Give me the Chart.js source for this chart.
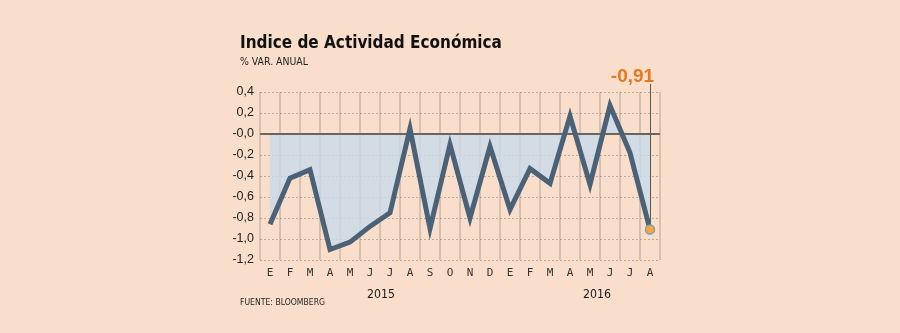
<!DOCTYPE html>
<html>
<head>
<meta charset="utf-8">
<script src="https://cdn.jsdelivr.net/npm/chart.js@4/dist/chart.umd.min.js"></script>
<style>
  html,body{margin:0;padding:0;background:#f9dfcb;}
  #wrap{position:relative;width:900px;height:333px;overflow:hidden;background:#f9dfcb;}
  canvas{position:absolute;left:0;top:0;}
  .t{position:absolute;white-space:nowrap;color:#111;line-height:1;}
  #title{left:240px;top:32px;font:bold 18px "DejaVu Sans Condensed","Liberation Sans",sans-serif;}
  #sub{left:240px;top:55px;font:10px "DejaVu Sans Condensed","Liberation Sans",sans-serif;color:#222;}
  #src{left:240px;top:297px;font:10px "DejaVu Sans Condensed","Liberation Sans",sans-serif;color:#222;}
</style>
</head>
<body>
<div id="wrap">
  <canvas id="c" width="900" height="333"></canvas>
  <div class="t" id="title">Indice de Actividad Económica</div>
  <div class="t" id="sub">% VAR. ANUAL</div>
  <div class="t" id="src">FUENTE: BLOOMBERG</div>
</div>
<script>
// ---- data ----
const months = ["E","F","M","A","M","J","J","A","S","O","N","D","E","F","M","A","M","J","J","A"];
const values = [-0.86,-0.42,-0.34,-1.10,-1.03,-0.88,-0.75,0.05,-0.90,-0.10,-0.80,-0.12,-0.72,-0.33,-0.47,0.17,-0.48,0.27,-0.18,-0.91];
const yTickValues = [0.4,0.2,0,-0.2,-0.4,-0.6,-0.8,-1.0,-1.2];
const yTickLabels = ["0,4","0,2","-0,0","-0,2","-0,4","-0,6","-0,8","-1,0","-1,2"];
const yearLabels = ["2015","2016"];
const lastLabel = "-0,91";

const lastIdx = values.length - 1;

function fit(id, w) {
  const el = document.getElementById(id);
  let fs = parseFloat(getComputedStyle(el).fontSize);
  for (let k = 0; k < 4; k++) {
    fs = fs * w / el.getBoundingClientRect().width;
    el.style.fontSize = fs + 'px';
  }
}
fit('title', 262);
fit('sub', 68);
fit('src', 85);

const extras = {
  id: 'extras',
  beforeDatasetsDraw(chart) {
    const {ctx, chartArea, scales} = chart;
    const y0 = scales.y.getPixelForValue(0);
    ctx.save();
    ctx.strokeStyle = '#6b6560';
    ctx.lineWidth = 2;
    ctx.beginPath();
    ctx.moveTo(chartArea.left, y0);
    ctx.lineTo(chartArea.right, y0);
    ctx.stroke();
    const px = scales.x.getPixelForValue(lastIdx);
    const py = scales.y.getPixelForValue(values[lastIdx]);
    ctx.strokeStyle = '#5a5550';
    ctx.lineWidth = 1;
    ctx.beginPath();
    ctx.moveTo(px + 0.5, 84);
    ctx.lineTo(px + 0.5, py);
    ctx.stroke();
    ctx.restore();
  },
  afterDraw(chart) {
    const {ctx, scales} = chart;
    ctx.save();
    ctx.fillStyle = '#1a1a1a';
    ctx.textAlign = 'center';
    ctx.textBaseline = 'middle';
    let fs = 14;
    ctx.font = fs + 'px "DejaVu Sans Condensed","Liberation Sans",sans-serif';
    fs = fs * 28 / ctx.measureText('2015').width;
    ctx.font = fs + 'px "DejaVu Sans Condensed","Liberation Sans",sans-serif';
    const anchors = [5.55, 16.35];
    yearLabels.forEach((t, i) => {
      ctx.fillText(t, scales.x.getPixelForValue(anchors[i]), 295);
    });
    const px = scales.x.getPixelForValue(lastIdx);
    ctx.fillStyle = '#e6781e';
    ctx.font = 'bold 19px "Liberation Sans","DejaVu Sans",sans-serif';
    ctx.textAlign = 'center';
    ctx.fillText(lastLabel, px - 17.5, 77);
    ctx.restore();
  }
};

new Chart(document.getElementById('c'), {
  type: 'line',
  data: {
    labels: months,
    datasets: [{
      data: values,
      borderColor: '#4b6276',
      borderWidth: 5,
      tension: 0,
      fill: 'origin',
      backgroundColor: 'rgba(203,218,234,0.82)',
      pointRadius: c => c.dataIndex === lastIdx ? 4.5 : 0,
      pointHoverRadius: 0,
      pointBackgroundColor: '#f4a93a',
      pointBorderColor: '#8a9aab',
      pointBorderWidth: 1.5
    }]
  },
  options: {
    responsive: false,
    animation: false,
    events: [],
    layout: { padding: { left: 0, right: 240, top: 92, bottom: 0 } },
    plugins: {
      legend: { display: false },
      tooltip: { enabled: false },
      filler: { drawTime: 'beforeDatasetsDraw' }
    },
    scales: {
      x: {
        type: 'category',
        offset: true,
        grid: { offset: true, color: 'rgba(150,135,125,0.35)', lineWidth: 2, drawTicks: false },
        border: { display: false },
        ticks: { color: '#333', font: { family: '"DejaVu Sans Mono", monospace', size: 11 }, padding: 7, maxRotation: 0, autoSkip: false },
        afterFit(s) { s.height = 73; }
      },
      y: {
        min: -1.2, max: 0.4,
        afterBuildTicks(s) { s.ticks = yTickValues.map(v => ({ value: v })); },
        grid: { color: 'rgba(130,120,110,0.5)', lineWidth: 1, drawTicks: false },
        border: { display: false, dash: [2, 2] },
        ticks: {
          color: '#222',
          font: { family: '"Liberation Sans", Arial, sans-serif', size: 12.5 },
          padding: 6,
          callback(v) {
            const i = yTickValues.findIndex(t => Math.abs(t - v) < 1e-6);
            return i >= 0 ? yTickLabels[i] : '';
          }
        },
        afterFit(s) { s.width = 260; }
      }
    }
  },
  plugins: [extras]
});
</script>
</body>
</html>
